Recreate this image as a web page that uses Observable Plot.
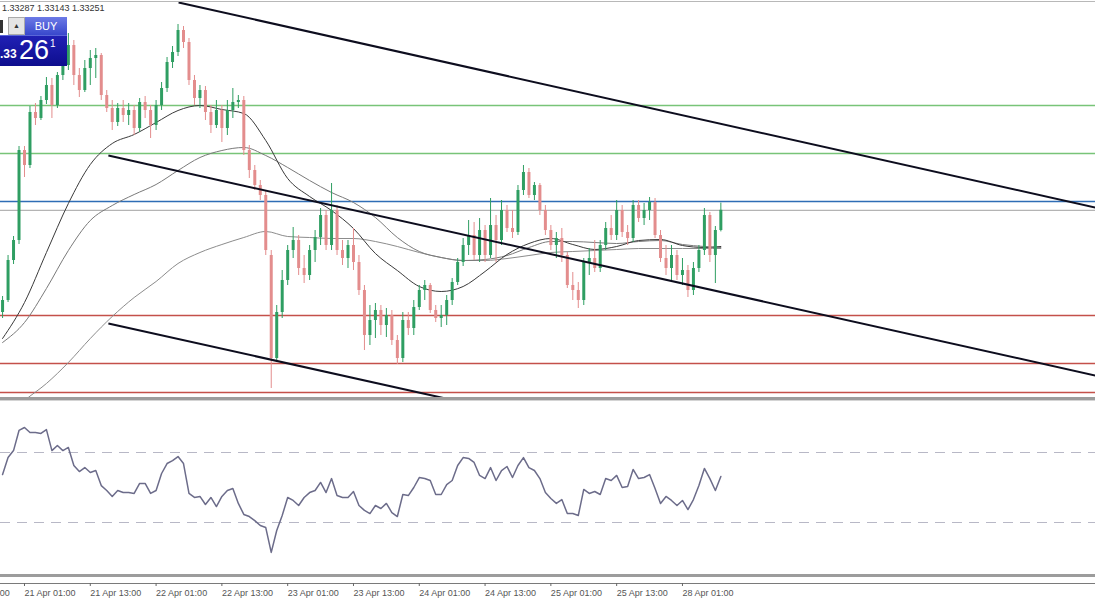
<!DOCTYPE html>
<html><head><meta charset="utf-8">
<script src="https://cdn.jsdelivr.net/npm/d3@7"></script>
<script src="https://cdn.jsdelivr.net/npm/@observablehq/plot@0.6"></script>
<style>
html,body{margin:0;padding:0;background:#fff;overflow:hidden}
#chart{position:relative;width:1095px;height:600px;font-family:"Liberation Sans",Arial,sans-serif;background:#fff}
.abs{position:absolute}
</style></head><body><div id="chart"></div>
<script>
// ---- DATA (hourly bars; index 0 = 21 Apr 01:00) ----
const open = [1.32740,1.32800,1.33000,1.33100,
1.33550,1.33475,1.33740,1.33710,1.33800,1.33875,1.33775,1.33925,1.33975,1.34075,
1.33925,1.33850,1.33960,1.34010,1.34025,1.33825,1.33760,1.33690,1.33760,1.33725,
1.33750,1.33660,1.33790,1.33750,1.33675,1.33775,1.33860,1.33990,1.34040,1.34150,
1.34090,1.33900,1.33810,1.33850,1.33740,1.33675,1.33750,1.33660,1.33750,1.33790,
1.33800,1.33550,1.33450,1.33375,1.33325,1.33025,1.32510,1.32740,1.32900,1.33050,
1.33100,1.32960,1.32925,1.33050,1.33115,1.33225,1.33075,1.33250,1.33050,1.33010,
1.33075,1.32990,1.32850,1.32625,1.32700,1.32750,1.32675,1.32725,1.32600,1.32510,
1.32700,1.32660,1.32765,1.32850,1.32875,1.32750,1.32710,1.32725,1.32800,1.32890,
1.32990,1.33075,1.33125,1.33025,1.33150,1.33025,1.33175,1.33100,1.33250,1.33160,
1.33140,1.33350,1.33440,1.33325,1.33375,1.33250,1.33150,1.33075,1.33110,1.33025,
1.32875,1.32850,1.32800,1.32990,1.33010,1.32960,1.33075,1.33160,1.33125,1.33250,
1.33140,1.33110,1.33275,1.33210,1.33250,1.33290,1.33125,1.33010,1.32960,1.33025,
1.32925,1.32950,1.32850,1.32960,1.33050,1.33225,1.33025,1.33150];
const high = [1.32820,1.33025,1.33120,1.33570,
1.33570,1.33770,1.33785,1.33820,1.33915,1.33910,1.33940,1.34000,1.34135,1.34100,
1.33960,1.34000,1.34050,1.34060,1.34035,1.33850,1.33800,1.33785,1.33800,1.33785,
1.33775,1.33810,1.33820,1.33775,1.33800,1.33890,1.34015,1.34070,1.34180,1.34170,
1.34110,1.33925,1.33875,1.33870,1.33775,1.33800,1.33775,1.33800,1.33860,1.33825,
1.33820,1.33575,1.33475,1.33400,1.33350,1.33050,1.32775,1.32950,1.33075,1.33165,
1.33125,1.33025,1.33075,1.33150,1.33260,1.33250,1.33385,1.33275,1.33100,1.33100,
1.33160,1.33025,1.32875,1.32775,1.32785,1.32775,1.32760,1.32750,1.32625,1.32740,
1.32740,1.32800,1.32875,1.32900,1.32885,1.32775,1.32775,1.32825,1.32910,1.33010,
1.33110,1.33200,1.33190,1.33210,1.33175,1.33310,1.33225,1.33300,1.33275,1.33250,
1.33375,1.33475,1.33460,1.33390,1.33385,1.33275,1.33175,1.33140,1.33160,1.33040,
1.32940,1.32890,1.33010,1.33060,1.33100,1.33100,1.33190,1.33225,1.33300,1.33275,
1.33175,1.33300,1.33300,1.33285,1.33315,1.33310,1.33150,1.33075,1.33075,1.33050,
1.33010,1.32975,1.32990,1.33075,1.33260,1.33240,1.33170,1.33287];
const low = [1.32710,1.32790,1.32980,1.33080,
1.33415,1.33460,1.33675,1.33700,1.33780,1.33710,1.33760,1.33900,1.33950,1.33875,
1.33815,1.33840,1.33875,1.33910,1.33800,1.33740,1.33650,1.33670,1.33690,1.33675,
1.33625,1.33640,1.33710,1.33610,1.33650,1.33750,1.33840,1.33960,1.34020,1.34060,
1.33875,1.33775,1.33760,1.33700,1.33635,1.33660,1.33590,1.33625,1.33710,1.33760,
1.33525,1.33410,1.33350,1.33300,1.33025,1.32360,1.32490,1.32710,1.32875,1.33010,
1.32925,1.32885,1.32900,1.32990,1.33075,1.33050,1.33050,1.33025,1.32975,1.32960,
1.32950,1.32825,1.32550,1.32575,1.32610,1.32625,1.32615,1.32575,1.32480,1.32490,
1.32625,1.32625,1.32750,1.32800,1.32735,1.32690,1.32665,1.32675,1.32775,1.32875,
1.32970,1.33025,1.33000,1.32990,1.32990,1.33010,1.32990,1.33075,1.33140,1.33110,
1.33125,1.33325,1.33310,1.33300,1.33225,1.33125,1.33050,1.33010,1.32990,1.32860,
1.32800,1.32760,1.32775,1.32925,1.32940,1.32940,1.33050,1.33100,1.33100,1.33115,
1.33075,1.33090,1.33190,1.33175,1.33200,1.33110,1.32990,1.32925,1.32900,1.32900,
1.32875,1.32815,1.32825,1.32940,1.33025,1.32990,1.32885,1.33143];
const close = [1.32800,1.33000,1.33100,1.33550,
1.33475,1.33740,1.33710,1.33800,1.33875,1.33775,1.33925,1.33975,1.34075,1.33925,
1.33850,1.33960,1.34010,1.34025,1.33825,1.33760,1.33690,1.33760,1.33725,1.33750,
1.33660,1.33790,1.33750,1.33675,1.33775,1.33860,1.33990,1.34040,1.34150,1.34090,
1.33900,1.33810,1.33850,1.33740,1.33675,1.33750,1.33660,1.33750,1.33790,1.33800,
1.33550,1.33450,1.33375,1.33325,1.33050,1.32510,1.32740,1.32900,1.33050,1.33100,
1.32960,1.32925,1.33050,1.33115,1.33225,1.33075,1.33250,1.33050,1.33010,1.33075,
1.32990,1.32850,1.32625,1.32700,1.32750,1.32675,1.32725,1.32600,1.32510,1.32700,
1.32660,1.32765,1.32850,1.32875,1.32750,1.32710,1.32725,1.32800,1.32890,1.32990,
1.33075,1.33125,1.33025,1.33150,1.33025,1.33175,1.33100,1.33250,1.33160,1.33140,
1.33350,1.33440,1.33325,1.33375,1.33250,1.33150,1.33075,1.33110,1.33025,1.32875,
1.32850,1.32800,1.32990,1.33010,1.32960,1.33075,1.33160,1.33125,1.33250,1.33140,
1.33110,1.33275,1.33210,1.33250,1.33290,1.33125,1.33010,1.32960,1.33025,1.32925,
1.32950,1.32850,1.32960,1.33050,1.33225,1.33025,1.33150,1.33251];
const rsi = [57.4,67.1,71.1,82.6,
84.3,81.4,81.4,80.9,83.1,71.1,74.0,71.1,72.9,62.6,
59.1,61.4,58.6,59.7,51.1,48.3,44.9,48.3,47.1,47.1,
46.6,52.3,52.3,46.6,48.3,58.0,63.7,65.4,67.7,63.7,
46.6,44.3,44.9,40.3,44.3,39.1,44.9,48.3,49.4,40.9,
34.6,33.4,31.1,28.3,27.1,12.9,25.4,34.0,44.3,42.6,
39.7,44.3,47.1,48.3,52.9,47.1,55.1,45.4,44.3,44.3,
47.7,39.7,36.9,35.1,39.7,38.0,40.9,35.7,33.4,46.0,
45.4,50.0,55.7,55.1,54.0,46.0,46.0,51.7,54.0,62.6,
67.1,66.6,64.3,56.9,55.1,61.4,54.0,59.7,62.0,55.7,
62.6,67.1,61.4,59.7,55.1,47.1,43.7,40.9,43.1,35.1,
35.1,34.0,48.9,46.6,47.7,46.0,55.1,54.0,56.9,50.0,
50.6,60.3,55.1,55.7,57.4,49.4,40.9,44.9,42.6,39.7,
42.6,37.4,43.1,51.1,60.9,55.1,48.3,56.3];
const firstBar = -4;
const barIndex = d3.range(firstBar, firstBar + close.length);

// moving averages read at every 4th bar
const maIdx = [-4,0,4,8,12,16,20,24,28,32,36,40,44,48,52,56,60,64,68,72,76,80,84,88,92,96,100,104,108,112,116,120,124,127];
const maFast = [1.32610,1.32790,1.33040,1.33285,1.33480,1.33585,1.33630,1.33690,1.33750,1.33775,1.33755,1.33735,1.33600,1.33410,1.33320,1.33250,1.33160,1.33035,1.32950,1.32870,1.32845,1.32870,1.32945,1.33030,1.33085,1.33110,1.33080,1.33055,1.33070,1.33100,1.33105,1.33075,1.33065,1.33070];
const maMid = [1.32590,1.32690,1.32860,1.33050,1.33200,1.33275,1.33330,1.33380,1.33450,1.33515,1.33550,1.33565,1.33525,1.33465,1.33400,1.33340,1.33290,1.33215,1.33115,1.33045,1.33015,1.33000,1.33005,1.33025,1.33065,1.33095,1.33095,1.33090,1.33085,1.33095,1.33100,1.33080,1.33070,1.33065];
const maSlow = [1.32200,1.32300,1.32385,1.32490,1.32610,1.32720,1.32815,1.32895,1.32985,1.33040,1.33080,1.33115,1.33145,1.33120,1.33115,1.33110,1.33110,1.33095,1.33070,1.33040,1.33015,1.33000,1.33000,1.33010,1.33025,1.33040,1.33045,1.33050,1.33055,1.33060,1.33060,1.33060,1.33060,1.33060];

// horizontal levels
const resistanceLevels = [1.33775, 1.33535];
const pivotLevels = [1.33295];
const bidPrice = 1.33251;
const supportLevels = [1.32725, 1.32485, 1.32340];

// trend lines (bar index, price)
const trendX1 = [28.1, 15.3, 15.3];
const trendY1 = [1.34290, 1.33525, 1.32685];
const trendX2 = [195.3, 195.3, 76.8];
const trendY2 = [1.33265, 1.32425, 1.32310];

// RSI levels
const rsiLevels = [70, 30];

// time axis
const tickIdx = [-12,0,12,24,36,48,60,72,84,96,108,120];
const tickLabels = ["20 Apr 13:00","21 Apr 01:00","21 Apr 13:00","22 Apr 01:00","22 Apr 13:00","23 Apr 01:00","23 Apr 13:00","24 Apr 01:00","24 Apr 13:00","25 Apr 01:00","25 Apr 13:00","28 Apr 01:00"];

// ---- BUILD ----
const W = 1095;
const xDomain = [-4.377, 195.33];
const candles = barIndex.map((d,k)=>({i:d,o:open[k],h:high[k],l:low[k],c:close[k]}));
const bull = candles.filter(d=>d.c>=d.o);
const bear = candles.filter(d=>d.c<d.o);
const bullC = "#2f9e62", bearC = "#e38d8d";
const trends = trendX1.map((d,k)=>({x1:d,y1:trendY1[k],x2:trendX2[k],y2:trendY2[k]}));
const pairs = (xs, ys) => xs.map((d,k)=>[d, ys[k]]);

const main = Plot.plot({
  width: W, height: 398, margin: 0,
  x: {domain: xDomain, axis: null},
  y: {domain: [1.3231, 1.3430], axis: null},
  style: {background: "transparent"},
  marks: [
    Plot.ruleY(resistanceLevels, {stroke: "#78c478", strokeWidth: 1.5}),
    Plot.ruleY(pivotLevels, {stroke: "#2f6db5", strokeWidth: 1.5}),
    Plot.ruleY([bidPrice], {stroke: "#b4b4b4", strokeWidth: 1.2}),
    Plot.ruleY(supportLevels, {stroke: "#c4504a", strokeWidth: 1.5}),
    Plot.line(pairs(maIdx, maSlow), {curve: "monotone-x", stroke: "#8c8c8c", strokeWidth: 1, clip: true}),
    Plot.line(pairs(maIdx, maMid), {curve: "monotone-x", stroke: "#7a7a7a", strokeWidth: 1, clip: true}),
    Plot.line(pairs(maIdx, maFast), {curve: "monotone-x", stroke: "#3a3a3a", strokeWidth: 1, clip: true}),
    Plot.ruleX(bull, {x: "i", y1: "l", y2: "h", stroke: bullC, strokeWidth: 1}),
    Plot.ruleX(bear, {x: "i", y1: "l", y2: "h", stroke: bearC, strokeWidth: 1}),
    Plot.ruleX(bull, {x: "i", y1: "o", y2: "c", stroke: bullC, strokeWidth: 3}),
    Plot.ruleX(bear, {x: "i", y1: "o", y2: "c", stroke: bearC, strokeWidth: 3}),
    Plot.link(trends, {x1: "x1", y1: "y1", x2: "x2", y2: "y2", stroke: "#0d0d1e", strokeWidth: 2, clip: true})
  ]
});

const rsiPlot = Plot.plot({
  width: W, height: 202, marginTop: 0, marginBottom: 17, marginLeft: 0, marginRight: 0,
  x: {domain: xDomain},
  y: {domain: [-4.857, 100.857], axis: null},
  style: {background: "transparent", color: "#666", fontFamily: "Liberation Sans, Arial, sans-serif"},
  marks: [
    Plot.ruleY(rsiLevels, {stroke: "#b8b8c6", strokeWidth: 1.2, strokeDasharray: "10,7"}),
    Plot.line(pairs(barIndex, rsi), {stroke: "#6c6c8a", strokeWidth: 1.5}),
    Plot.frame({anchor: "bottom", stroke: "#7a7a7a"}),
    Plot.axisX({ticks: tickIdx, tickFormat: d => tickLabels[tickIdx.indexOf(d)], textAnchor: "start",
      tickSize: 3, tickPadding: 3, fontSize: 9, fill: "#555", label: null})
  ]
});

const root = document.getElementById("chart");
function box(style, html) { const e = document.createElement("div"); e.className = "abs"; e.style.cssText = style; if (html) e.innerHTML = html; root.appendChild(e); return e; }
const m = box("left:0;top:0;width:1095px;height:398px"); m.appendChild(main);
const r = box("left:0;top:398px;width:1095px;height:202px"); r.appendChild(rsiPlot);
// panel separators
box("left:0;top:1px;width:1095px;height:1px;background:#b8b8b8");
box("left:0;top:397px;width:1095px;height:3px;background:#9c9c9c");
box("left:0;top:400px;width:1095px;height:1px;background:#d4d4d4");
box("left:0;top:574px;width:1095px;height:3px;background:#9c9c9c");
// header values
box("left:2px;top:3px;font-size:9px;color:#333;white-space:nowrap", "1.33287 1.33143 1.33251");
// one-click trading widget
box("left:0;top:17px;width:8px;height:18px;background:#fff");
box("left:0;top:20px;width:3px;height:13px;background:#333");
box("left:8px;top:17px;width:17px;height:18px;background:#e4e4e4;border:1px solid #aaa;box-sizing:border-box;font-size:7px;text-align:center;line-height:16px;color:#333", "&#9650;");
box("left:25px;top:17px;width:42px;height:18px;background:linear-gradient(#6c7ae6,#3848cc);color:#fff;font-size:11px;text-align:center;line-height:18px", "BUY");
box("left:0;top:35px;width:67px;height:31px;background:linear-gradient(#2020b4,#0e0e8e);border-top:1px solid #5a66d8;box-sizing:border-box");
box("left:0;top:47px;color:#fff;font-size:12px;font-weight:bold", ".33");
box("left:19px;top:35px;color:#fff;font-size:27px;line-height:30px", "26");
box("left:50px;top:38px;color:#fff;font-size:10px", "1");
</script></body></html>
